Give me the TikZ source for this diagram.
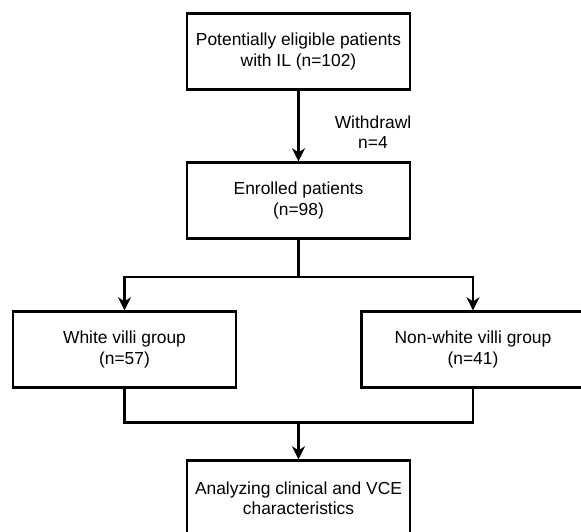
\documentclass[tikz,border=0pt]{standalone}
\usepackage{fontspec}
\setmainfont{Liberation Sans}
\usetikzlibrary{arrows.meta}
\usetikzlibrary{calc,positioning}

\begin{document}
\begin{tikzpicture}[>={Stealth[length=13pt,width=13pt,inset=4pt]}, line width=2.4pt, node distance=149pt,
    txt/.style={font=\fontsize{17.4pt}{20.5pt}\selectfont, align=center},
    box/.style={txt, draw, rectangle, minimum width=223pt, minimum height=76pt}]

    \useasboundingbox (-298.5pt,51.5pt) rectangle (282.5pt,-479.5pt);

    \node[box] (eligible) {Potentially eligible patients\\with IL (n=102)};
    \node[box] (enrolled) [below of=eligible] {Enrolled patients\\(n=98)};
    \node[box] (white)    [below of=enrolled, xshift=-174pt] {White villi group\\(n=57)};
    \node[box] (nonwhite) [below of=enrolled, xshift=174.5pt] {Non-white villi group\\(n=41)};
    \node[box] (analyze)  [below of=white, xshift=174pt] {Analyzing clinical and VCE\\characteristics};

    \node[txt] (withdrawl) at ($(eligible)+(74.5pt,-80.5pt)$) {Withdrawl\\n=4};

    \coordinate (split) at ($(enrolled.south)+(0,-37pt)$);
    \coordinate (join)  at ($(analyze.north)+(0,37pt)$);

    \path[->] (eligible) edge (enrolled);
    \draw[->] (enrolled) -- (split) -| (white);
    \draw[->] (split) -| (nonwhite);
    \draw (white) |- (join);
    \draw (nonwhite) |- (join);
    \draw[->] (join) -- (analyze);

\end{tikzpicture}
\end{document}
